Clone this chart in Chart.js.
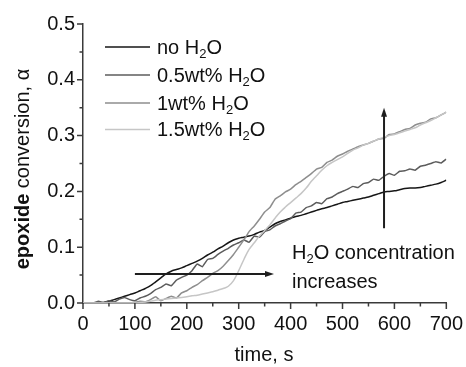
<!DOCTYPE html>
<html>
<head>
<meta charset="utf-8">
<script src="https://cdn.jsdelivr.net/npm/chart.js@4.4.1/dist/chart.umd.min.js"></script>
<style>
  html, body { margin: 0; padding: 0; background: #fff; }
  #wrap { width: 466px; height: 367px; }
</style>
</head>
<body>
<div id="wrap"><canvas id="chart" width="466" height="367"></canvas></div>
<script>
// Data
const TIME = [0, 10, 20, 30, 40, 50, 60, 70, 80, 90,
  100, 110, 120, 130, 140, 150, 160, 170, 180, 190,
  200, 210, 220, 230, 240, 250, 260, 270, 280, 290,
  300, 310, 320, 330, 340, 350, 360, 370, 380, 390,
  400, 410, 420, 430, 440, 450, 460, 470, 480, 490,
  500, 510, 520, 530, 540, 550, 560, 570, 580, 590,
  600, 610, 620, 630, 640, 650, 660, 670, 680, 690, 700];

const NO_WATER = [0, 0, 0, 0, 0.001, 0.003, 0.006, 0.009, 0.012, 0.015,
  0.018, 0.022, 0.026, 0.031, 0.038, 0.045, 0.052, 0.057, 0.060, 0.063,
  0.067, 0.071, 0.075, 0.080, 0.086, 0.091, 0.097, 0.102, 0.108, 0.113,
  0.116, 0.118, 0.120, 0.123, 0.127, 0.130, 0.136, 0.142, 0.146, 0.149,
  0.152, 0.155, 0.157, 0.160, 0.163, 0.166, 0.169, 0.171, 0.174, 0.177,
  0.180, 0.182, 0.184, 0.186, 0.188, 0.190, 0.193, 0.196, 0.199, 0.200,
  0.201, 0.203, 0.205, 0.206, 0.206, 0.207, 0.209, 0.211, 0.213, 0.216, 0.220];

const WATER_05 = [0, 0, 0, 0.003, 0.001, 0.004, 0.002, 0.007, 0.010, 0.006,
  0.004, 0.009, 0.012, 0.017, 0.024, 0.028, 0.034, 0.031, 0.041, 0.046,
  0.050, 0.058, 0.070, 0.065, 0.078, 0.080, 0.087, 0.093, 0.098, 0.104,
  0.108, 0.113, 0.109, 0.120, 0.118, 0.128, 0.131, 0.138, 0.142, 0.147,
  0.151, 0.161, 0.163, 0.171, 0.174, 0.180, 0.178, 0.187, 0.190, 0.196,
  0.200, 0.204, 0.209, 0.207, 0.214, 0.216, 0.222, 0.220, 0.227, 0.232,
  0.229, 0.236, 0.237, 0.240, 0.238, 0.245, 0.247, 0.250, 0.253, 0.251, 0.258];

const WATER_1 = [0, 0, 0, 0, 0, 0, 0, 0, 0, 0,
  0.001, 0.003, 0.002, 0.006, 0.011, 0.004, 0.008, 0.012, 0.009, 0.018,
  0.022, 0.028, 0.033, 0.040, 0.046, 0.053, 0.058, 0.066, 0.076, 0.087,
  0.100, 0.113, 0.128, 0.138, 0.150, 0.163, 0.171, 0.186, 0.192, 0.199,
  0.204, 0.212, 0.218, 0.225, 0.232, 0.240, 0.243, 0.252, 0.256, 0.263,
  0.267, 0.272, 0.276, 0.280, 0.283, 0.286, 0.290, 0.294, 0.295, 0.302,
  0.303, 0.307, 0.311, 0.313, 0.319, 0.322, 0.324, 0.330, 0.332, 0.337, 0.342];

const WATER_15 = [0, 0, 0, 0, 0, 0, 0, 0, 0, 0,
  0, 0.001, 0.002, 0.003, 0.005, 0.006, 0.007, 0.008, 0.009, 0.010,
  0.011, 0.013, 0.014, 0.016, 0.018, 0.020, 0.023, 0.026, 0.030, 0.040,
  0.058, 0.078, 0.096, 0.108, 0.120, 0.130, 0.140, 0.152, 0.163, 0.172,
  0.180, 0.188, 0.196, 0.206, 0.218, 0.228, 0.238, 0.246, 0.252, 0.257,
  0.262, 0.268, 0.274, 0.278, 0.283, 0.286, 0.290, 0.294, 0.297, 0.300,
  0.302, 0.305, 0.308, 0.311, 0.314, 0.319, 0.323, 0.327, 0.332, 0.337, 0.342];

const SERIES_LABELS = ['no H₂O', '0.5wt% H₂O', '1wt% H₂O', '1.5wt% H₂O'];
const SERIES_COLORS = ['#161616', '#5c5c5c', '#8e8e8e', '#c6c6c6'];

const X_MAJOR = [0, 100, 200, 300, 400, 500, 600, 700];
const X_MINOR = [50, 150, 250, 350, 450, 550, 650];
const Y_MAJOR = [0, 0.1, 0.2, 0.3, 0.4, 0.5];
const Y_MINOR = [0.05, 0.15, 0.25, 0.35, 0.45];

// arrows: [t0, v0, t1, v1]
const ARROW_H = [100, 0.052, 368, 0.052];
const ARROW_V = [580, 0.134, 580, 0.350];

const FONT = '"Liberation Sans", Arial, Helvetica, sans-serif';
const AXIS_COLOR = '#3a3a3a';

// draw text with "₂" as a lowered small 2; returns width
function richText(ctx, str, x, y, size, weight, measureOnly) {
  let cx = x;
  const parts = str.split('₂');
  parts.forEach((p, i) => {
    ctx.font = `${weight} ${size}px ${FONT}`;
    if (!measureOnly) ctx.fillText(p, cx, y);
    cx += ctx.measureText(p).width;
    if (i < parts.length - 1) {
      ctx.font = `${weight} ${Math.round(size * 0.66)}px ${FONT}`;
      if (!measureOnly) ctx.fillText('2', cx, y + size * 0.32);
      cx += ctx.measureText('2').width;
    }
  });
  return cx - x;
}

function arrow(ctx, x0, y0, x1, y1) {
  const ang = Math.atan2(y1 - y0, x1 - x0);
  const head = 9, half = 3;
  ctx.beginPath();
  ctx.moveTo(x0, y0);
  ctx.lineTo(x1 - Math.cos(ang) * head * 0.8, y1 - Math.sin(ang) * head * 0.8);
  ctx.stroke();
  ctx.beginPath();
  ctx.moveTo(x1, y1);
  ctx.lineTo(x1 - Math.cos(ang) * head - Math.sin(ang) * half, y1 - Math.sin(ang) * head + Math.cos(ang) * half);
  ctx.lineTo(x1 - Math.cos(ang) * head + Math.sin(ang) * half, y1 - Math.sin(ang) * head - Math.cos(ang) * half);
  ctx.closePath();
  ctx.fill();
}

const decorPlugin = {
  id: 'decor',
  afterDraw(chart) {
    const ctx = chart.ctx;
    const xs = chart.scales.x, ys = chart.scales.y;
    const left = chart.chartArea.left, bottom = chart.chartArea.bottom;
    ctx.save();

    // tick marks (outward), major and minor
    ctx.strokeStyle = AXIS_COLOR;
    ctx.lineWidth = 1.5;
    ctx.beginPath();
    X_MAJOR.forEach(v => { const p = xs.getPixelForValue(v); ctx.moveTo(p, bottom); ctx.lineTo(p, bottom + 6); });
    X_MINOR.forEach(v => { const p = xs.getPixelForValue(v); ctx.moveTo(p, bottom); ctx.lineTo(p, bottom + 3.5); });
    Y_MAJOR.forEach(v => { const p = ys.getPixelForValue(v); ctx.moveTo(left, p); ctx.lineTo(left - 6, p); });
    Y_MINOR.forEach(v => { const p = ys.getPixelForValue(v); ctx.moveTo(left, p); ctx.lineTo(left - 3.5, p); });
    ctx.stroke();

    // legend
    ctx.fillStyle = '#111';
    ctx.textBaseline = 'middle';
    ctx.textAlign = 'left';
    const rows = [47, 75, 103, 129.5];
    chart.data.datasets.forEach((ds, i) => {
      ctx.strokeStyle = ds.borderColor;
      ctx.lineWidth = 1.6;
      ctx.beginPath();
      ctx.moveTo(105, rows[i]);
      ctx.lineTo(150, rows[i]);
      ctx.stroke();
      richText(ctx, ds.label, 157, rows[i] + 1, 20, 'normal');
    });

    // arrows
    ctx.strokeStyle = '#1e1e1e';
    ctx.fillStyle = '#1e1e1e';
    ctx.lineWidth = 2;
    arrow(ctx, xs.getPixelForValue(ARROW_H[0]), ys.getPixelForValue(ARROW_H[1]),
      xs.getPixelForValue(ARROW_H[2]), ys.getPixelForValue(ARROW_H[3]));
    arrow(ctx, xs.getPixelForValue(ARROW_V[0]), ys.getPixelForValue(ARROW_V[1]),
      xs.getPixelForValue(ARROW_V[2]), ys.getPixelForValue(ARROW_V[3]));

    // annotation
    ctx.fillStyle = '#111';
    richText(ctx, 'H₂O concentration', 292, 253, 20, 'normal');
    richText(ctx, 'increases', 292, 282, 20, 'normal');

    // x title
    ctx.textAlign = 'center';
    ctx.font = `20px ${FONT}`;
    ctx.fillText('time, s', 264, 355);

    // y title, "epoxide" bold
    ctx.translate(23, 169);
    ctx.rotate(-Math.PI / 2);
    ctx.textAlign = 'left';
    ctx.font = `bold 20px ${FONT}`;
    const w1 = ctx.measureText('epoxide').width;
    ctx.font = `20px ${FONT}`;
    const w2 = ctx.measureText(' conversion, α').width;
    let sx = -(w1 + w2) / 2;
    ctx.font = `bold 20px ${FONT}`;
    ctx.fillText('epoxide', sx, 0);
    ctx.font = `20px ${FONT}`;
    ctx.fillText(' conversion, α', sx + w1, 0);

    ctx.restore();
  }
};

const seriesValues = [NO_WATER, WATER_05, WATER_1, WATER_15];
const datasets = seriesValues.map((vals, i) => ({
  label: SERIES_LABELS[i],
  data: TIME.map((t, j) => ({ x: t, y: vals[j] })),
  borderColor: SERIES_COLORS[i],
  borderWidth: 1.5,
  pointRadius: 0,
  tension: (i === 0 || i === 3) ? 0.4 : 0.1,
  fill: false
})).reverse();
// keep legend order from top: draw list reversed so black is on top
const legendOrder = [...datasets].reverse();

new Chart(document.getElementById('chart'), {
  type: 'line',
  data: { datasets: datasets },
  options: {
    responsive: false,
    animation: false,
    events: [],
    layout: { padding: { top: 24, right: 18, left: 0, bottom: 0 } },
    plugins: { legend: { display: false }, tooltip: { enabled: false } },
    scales: {
      x: {
        type: 'linear', min: 0, max: 700,
        afterFit(s) { s.height = 64; },
        grid: { display: false, drawTicks: true, tickLength: 6 },
        border: { display: true, color: AXIS_COLOR, width: 1.5 },
        ticks: {
          stepSize: 100, padding: 3, color: '#111', maxRotation: 0,
          font: { family: FONT, size: 20 }
        }
      },
      y: {
        type: 'linear', min: 0, max: 0.5,
        afterFit(s) { s.width = 83; },
        grid: { display: false, drawTicks: true, tickLength: 6 },
        border: { display: true, color: AXIS_COLOR, width: 1.5 },
        ticks: {
          stepSize: 0.1, padding: 2, color: '#111',
          font: { family: FONT, size: 20 },
          callback: v => v.toFixed(1)
        }
      }
    }
  },
  plugins: [{
    id: 'legendOrderFix',
    beforeDraw(chart) { chart.legendOrder = legendOrder; }
  }, {
    id: 'decorWrap',
    afterDraw(chart) {
      // legend uses top-down order: no H2O first
      const saved = chart.data.datasets;
      chart.data.datasets = legendOrder;
      decorPlugin.afterDraw(chart);
      chart.data.datasets = saved;
    }
  }]
});
</script>
</body>
</html>
